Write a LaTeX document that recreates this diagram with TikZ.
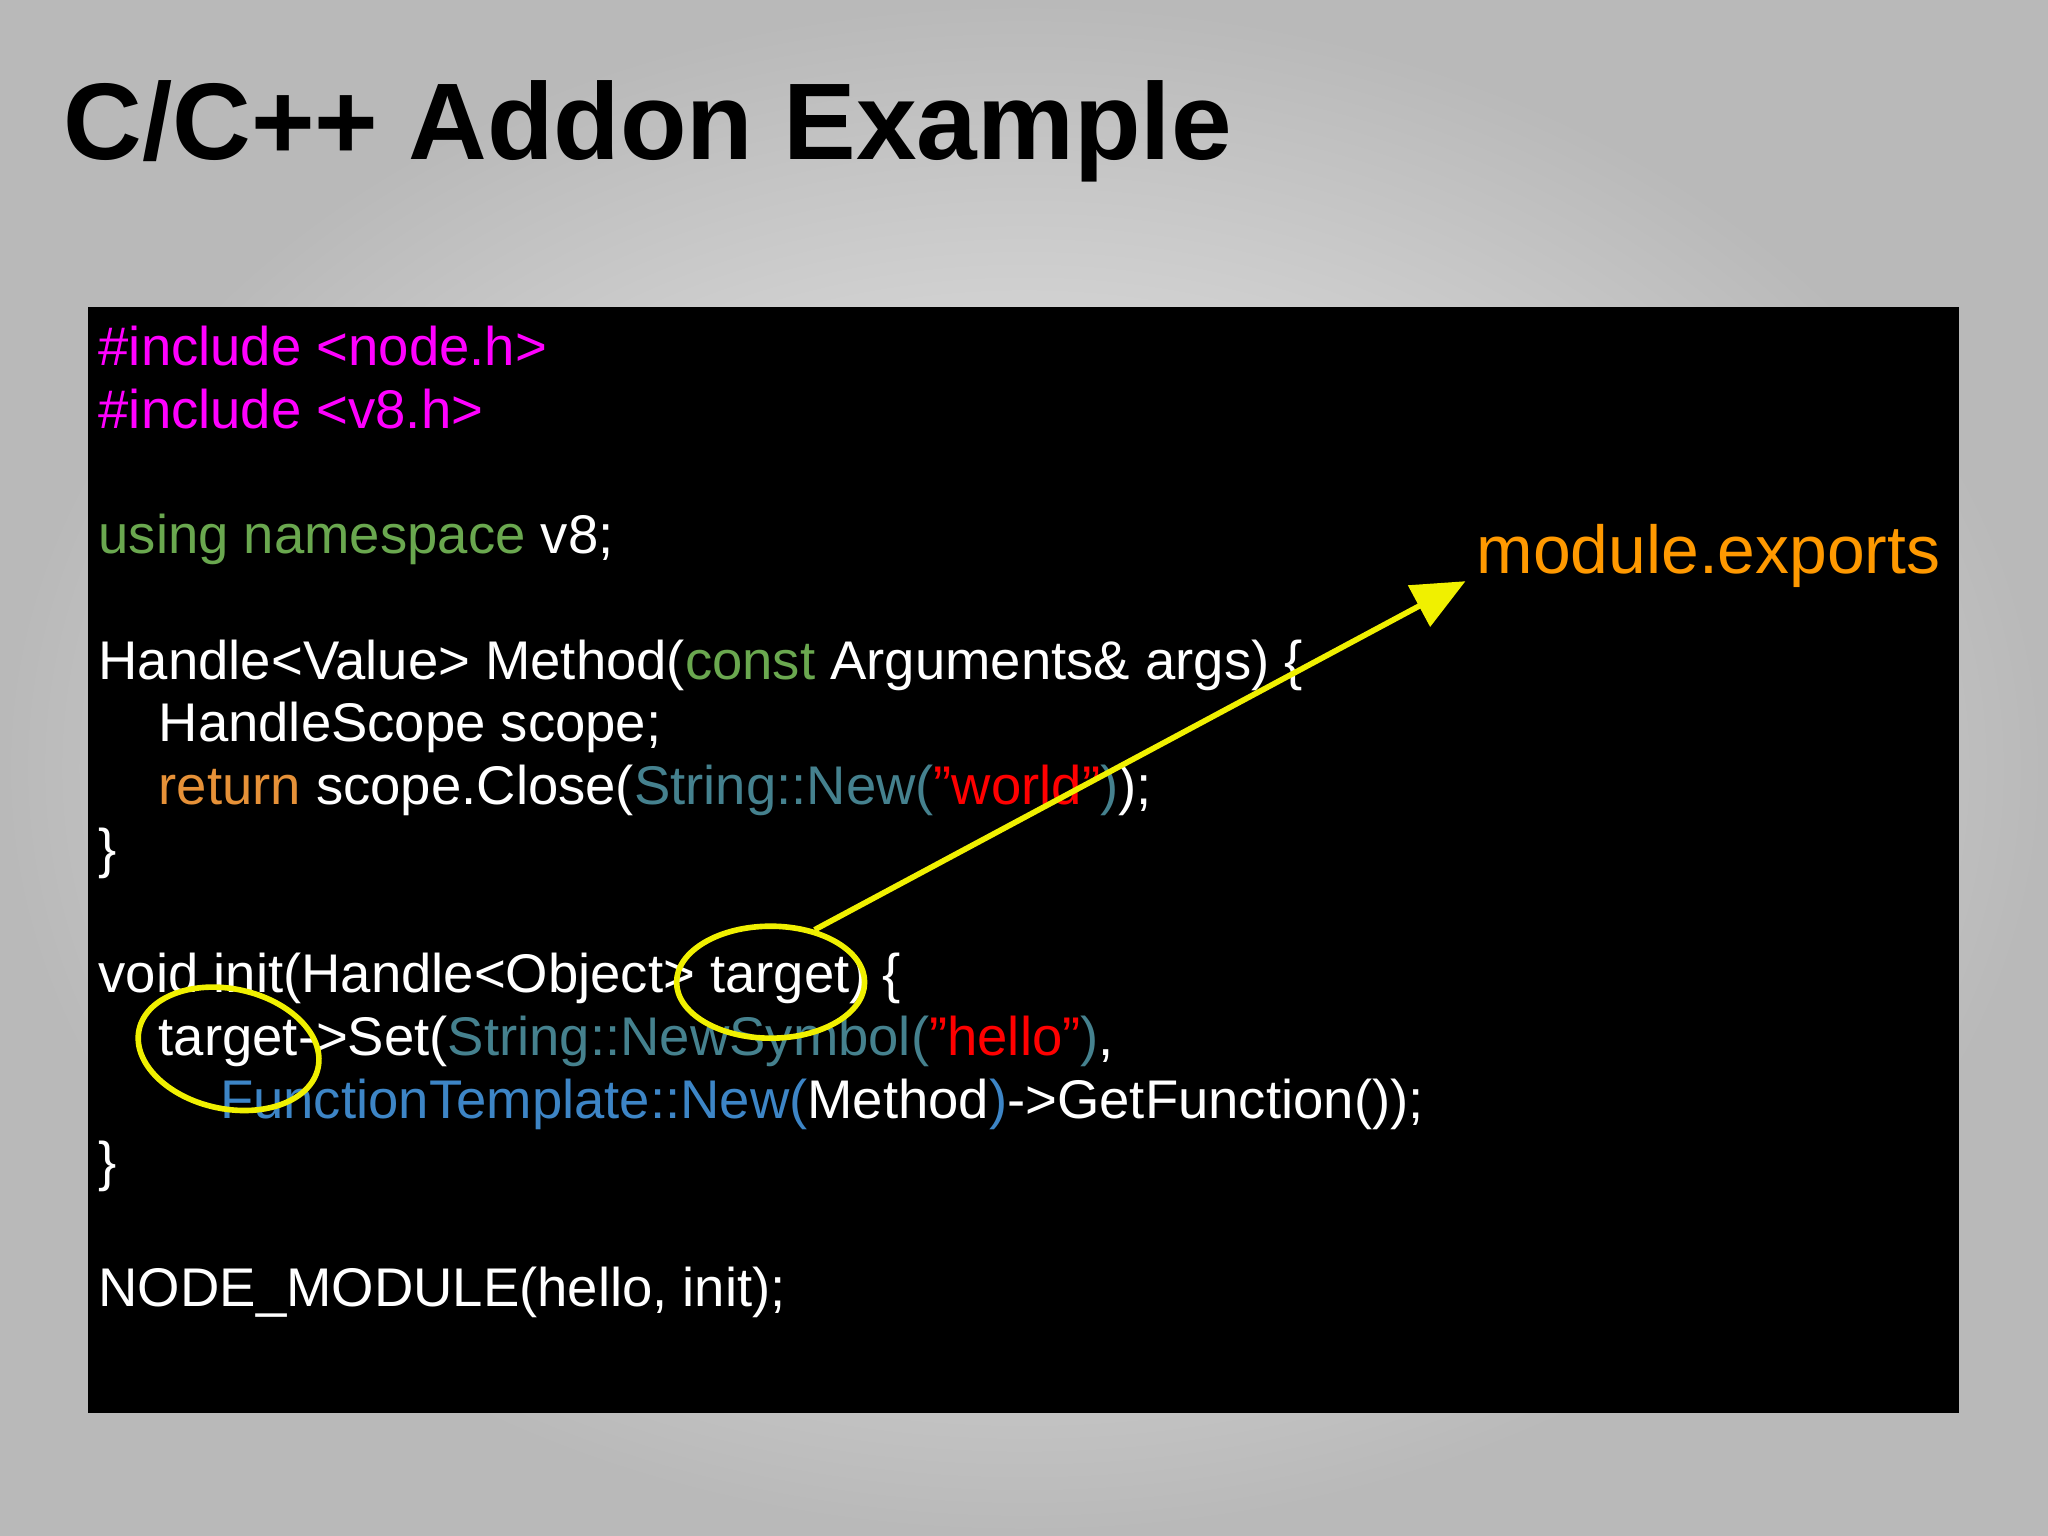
\documentclass[tikz,border=0pt]{standalone}
\usepackage{fontspec}
\setmainfont{Liberation Sans}
\usetikzlibrary{shapes.geometric,arrows.meta}
\definecolor{kwmag}{HTML}{FF00FF}
\definecolor{kwgreen}{HTML}{6AA84F}
\definecolor{kworange}{HTML}{E69138}
\definecolor{kwteal}{HTML}{45818E}
\definecolor{kwred}{HTML}{FF0000}
\definecolor{kwblue}{HTML}{3D85C6}
\definecolor{modorange}{HTML}{FF9900}
\definecolor{hl}{HTML}{F0F000}
\newcommand{\dq}{\symbol{34}}
\begin{document}
\begin{tikzpicture}[x=0.013061cm,y=-0.013061cm,
  code/.style={anchor=base west,inner sep=0,text=white,font=\fontsize{15.5}{18}\selectfont},
  ring/.style={draw=hl,line width=1.6pt,shape=ellipse,inner sep=0}]
\shade[inner color=gray!8,outer color=gray!55] (0,0) rectangle (1568,1176);
\useasboundingbox (0,0) rectangle (1568,1176);
\node[anchor=base west,inner sep=0,font=\fontsize{31}{37}\selectfont\bfseries] (title) at (48,122) {C/C++ Addon Example};
\fill[black] (67,235) rectangle (1500,1082);
\node[code] (l1) at (75,280) {\color{kwmag}\#include <node.h>};
\node[code] (l2) at (75,328) {\color{kwmag}\#include <v8.h>};
\node[code] (l4) at (75,424) {{\color{kwgreen}using namespace} v8;};
\node[code] (l6) at (75,520) {Handle<Value> Method({\color{kwgreen}const} Arguments\& args) \{};
\node[code] (l7) at (121,568) {HandleScope scope;};
\node[code] (l8) at (121,616) {{\color{kworange}return} scope.Close({\color{kwteal}String::New(}{\color{kwred}\dq world\dq}{\color{kwteal})});};
\node[code] (l9) at (75,664) {\}};
\node[code] (l11) at (75,760) {void init(Handle<Object> target) \{};
\node[code] (l12) at (121,808) {target->Set({\color{kwteal}String::NewSymbol(}{\color{kwred}\dq hello\dq}{\color{kwteal})},};
\node[code] (l13) at (168,856) {{\color{kwblue}FunctionTemplate::New(}Method{\color{kwblue})}->GetFunction());};
\node[code] (l14) at (75,904) {\}};
\node[code] (l16) at (75,1000) {NODE\_MODULE(hello, init);};
\node[anchor=base west,inner sep=0,text=modorange,font=\fontsize{19.3}{23}\selectfont] (mod) at (1130,439) {module.exports};
\node[ring,minimum width=1.83cm,minimum height=1.2cm,rotate=-12] (e1) at (175,803) {};
\node[ring,minimum width=1.88cm,minimum height=1.12cm] (e2) at (590,752) {};
\coordinate (tip) at (1122,445);
\draw[hl,line width=1.6pt,-{Triangle[length=15pt,width=13pt]}] (e2.50) -- (tip);
\end{tikzpicture}
\end{document}
